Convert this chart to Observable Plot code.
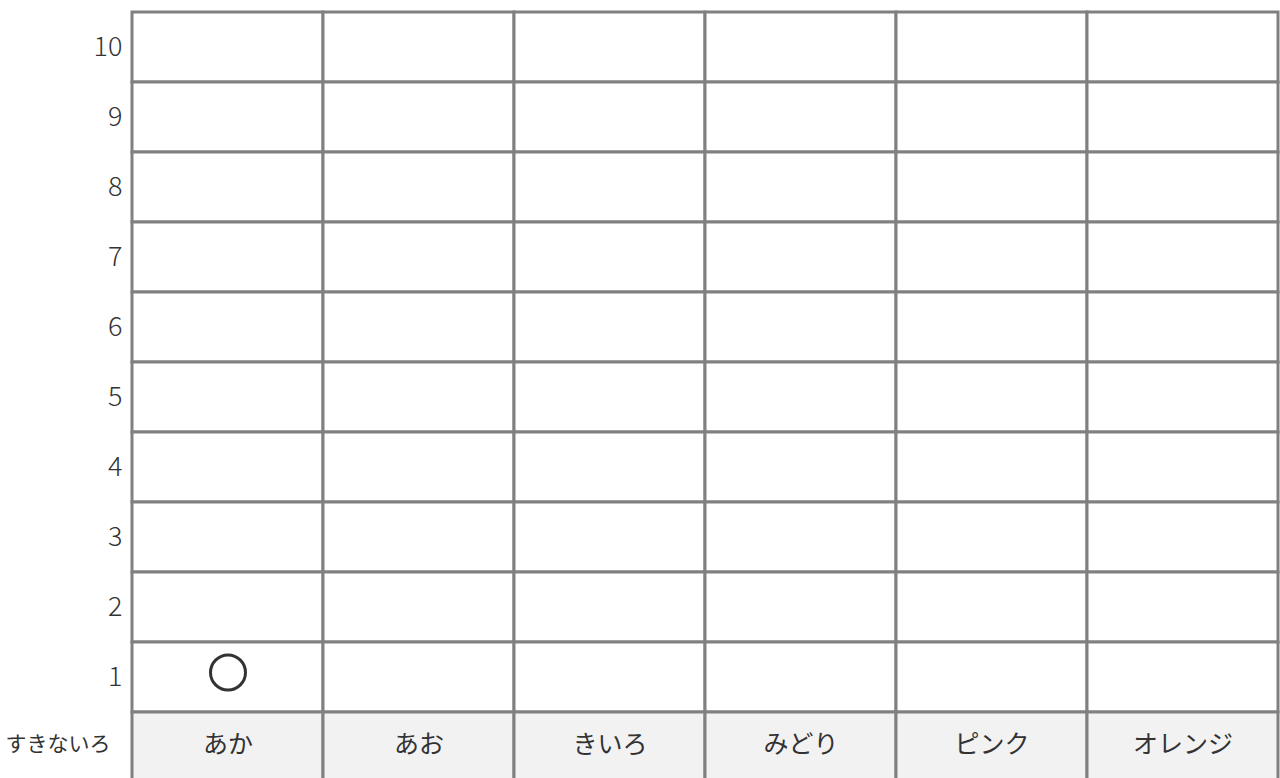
<!DOCTYPE html>
<html>
<head>
<meta charset="utf-8">
<script src="https://cdn.jsdelivr.net/npm/d3@7"></script>
<script src="https://cdn.jsdelivr.net/npm/@observablehq/plot@0.6"></script>
<style>
  html, body { margin: 0; padding: 0; background: #fff; }
  #chart svg { display: block; }
</style>
</head>
<body>
<div id="chart"></div>
<script>
const colors = ["あか", "あお", "きいろ", "みどり", "ピンク", "オレンジ"];
const levels = ["10", "9", "8", "7", "6", "5", "4", "3", "2", "1"];
const rowLabel = "すきないろ";
const circles = [{ color: "あか", level: "1" }];

const grid = [];
for (const l of levels) for (const c of colors) grid.push({ color: c, level: l });
const labelRow = colors.map(c => ({ color: c, level: rowLabel }));

const chart = Plot.plot({
  width: 1280,
  height: 778,
  marginLeft: 130,
  marginRight: 1,
  marginTop: 10,
  marginBottom: 0,
  style: { fontFamily: "'Noto Sans CJK JP', 'Noto Sans', sans-serif", background: "#fff" },
  x: { type: "band", domain: colors, range: [130.5, 1278.5], padding: 0, axis: null },
  y: { type: "band", domain: [...levels, rowLabel], range: [10, 784.4], padding: 0, axis: null },
  marks: [
    Plot.cell(grid, { x: "color", y: "level", fill: "#ffffff", stroke: "#808080", strokeWidth: 3 }),
    Plot.cell(labelRow, { x: "color", y: "level", fill: "#f2f2f2", stroke: "#808080", strokeWidth: 3 }),
    Plot.text(labelRow, { x: "color", y: "level", text: "color", fontSize: 25, fill: "#333", dy: -3 }),
    Plot.text(levels, { y: d => d, text: d => d, frameAnchor: "left", textAnchor: "end", dx: -8, fontSize: 27, fill: "#333", fontWeight: 300 }),
    Plot.text([rowLabel], { y: d => d, text: d => d, frameAnchor: "left", textAnchor: "end", dx: -20, fontSize: 21, fill: "#333", dy: -3 }),
    Plot.dot(circles, { x: "color", y: "level", r: 17.5, stroke: "#333", strokeWidth: 3, fill: "none", dy: -5 })
  ]
});
document.getElementById("chart").appendChild(chart);
</script>
</body>
</html>
